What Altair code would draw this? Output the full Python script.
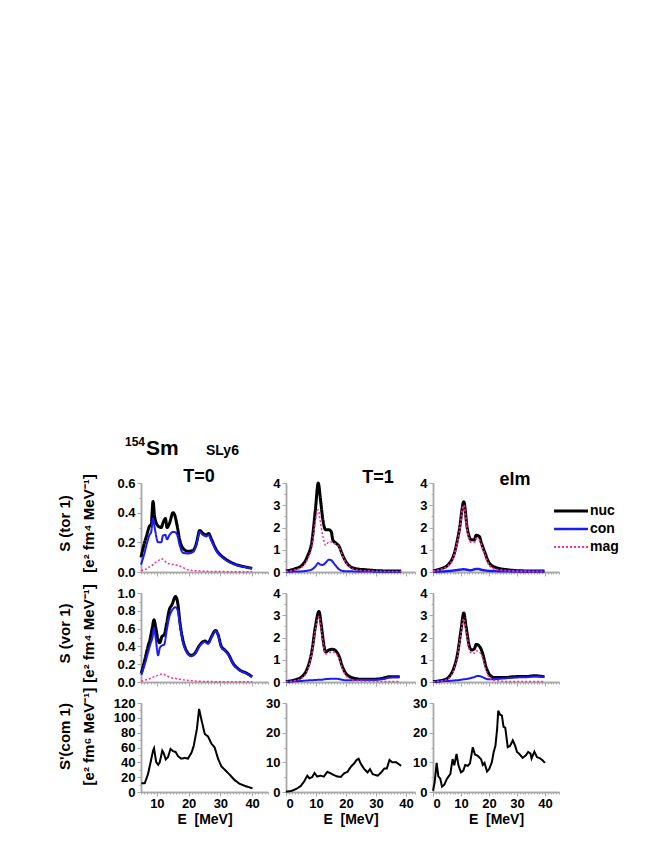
import altair as alt
import pandas as pd

FONT = "Liberation Sans"

# ---------------- data ----------------
# T=0, toroidal
E_T0_TOR = [5, 6, 6.7, 7.7, 8.2, 8.8, 9.3, 10.4, 11.4, 11.9, 12.7, 13.2, 14.0, 15.1, 15.6, 16.4, 17.2,
            18.2, 19.8, 21.4, 22.4, 23.5, 24.5, 25.6, 26.3, 27.2, 28.7, 30.8, 32.9, 35.0, 37.7, 40.0]
NUC_T0_TOR = [0.10, 0.19, 0.24, 0.31, 0.32, 0.475, 0.37, 0.31, 0.30, 0.33, 0.36, 0.30, 0.33, 0.40, 0.385, 0.31,
              0.216, 0.16, 0.14, 0.145, 0.19, 0.28, 0.26, 0.25, 0.26, 0.22, 0.15, 0.10, 0.07, 0.05, 0.035, 0.025]
CON_T0_TOR = [0.05, 0.12, 0.18, 0.25, 0.27, 0.36, 0.30, 0.20, 0.20, 0.245, 0.25, 0.22, 0.25, 0.27, 0.27, 0.25,
              0.18, 0.13, 0.125, 0.135, 0.18, 0.27, 0.25, 0.24, 0.25, 0.21, 0.145, 0.095, 0.066, 0.047, 0.033, 0.023]
MAG_T0_TOR = [0.01, 0.015, 0.02, 0.035, 0.04, 0.05, 0.06, 0.075, 0.09, 0.085, 0.07, 0.06, 0.055, 0.05, 0.05, 0.045,
              0.04, 0.03, 0.015, 0.01, 0.008, 0.006, 0.005, 0.005, 0.004, 0.004, 0.003, 0.003, 0.002, 0.002, 0.002, 0.002]

# T=1, toroidal
E_T1_TOR = [0, 3.1, 5.3, 7.1, 8.7, 9.8, 10.75, 11.5, 12.3, 13.2, 14.3, 15.1, 15.6, 16.6, 17.7, 18.6, 20.0,
            21.7, 23.3, 26.7, 32.3, 38.4]
NUC_T1_TOR = [0.05, 0.15, 0.3, 0.69, 1.44, 2.8, 4.0, 3.25, 2.34, 1.9, 1.9, 1.8, 1.44, 1.3, 1.15, 0.85, 0.46,
              0.22, 0.15, 0.1, 0.05, 0.04]
CON_T1_TOR = [0.01, 0.02, 0.03, 0.06, 0.12, 0.25, 0.4, 0.33, 0.32, 0.42, 0.55, 0.53, 0.45, 0.28, 0.12, 0.06, 0.03,
              0.03, 0.02, 0.02, 0.01, 0.01]
MAG_T1_TOR = [0.03, 0.1, 0.22, 0.55, 1.2, 2.3, 2.8, 2.2, 1.6, 1.2, 1.35, 1.35, 1.3, 1.25, 1.1, 0.8, 0.42,
              0.18, 0.1, 0.06, 0.03, 0.02]

# elm, toroidal
E_ELM_TOR = [0, 2.9, 5.2, 7.6, 9.4, 11.0, 12.2, 13.6, 14.8, 15.4, 16.5, 17.3, 18.6, 20.1, 22.5, 26.7, 32.6, 39.8]
NUC_ELM_TOR = [0.05, 0.15, 0.3, 0.84, 1.89, 3.16, 2.0, 1.45, 1.45, 1.65, 1.6, 1.3, 0.85, 0.4, 0.2, 0.1, 0.05, 0.04]
CON_ELM_TOR = [0.01, 0.02, 0.04, 0.07, 0.1, 0.12, 0.1, 0.08, 0.12, 0.14, 0.13, 0.1, 0.07, 0.05, 0.04, 0.03, 0.02, 0.02]
MAG_ELM_TOR = [0.03, 0.12, 0.25, 0.75, 1.75, 3.0, 1.85, 1.35, 1.35, 1.5, 1.45, 1.2, 0.75, 0.3, 0.12, 0.06, 0.03, 0.02]

# T=0, vortical
E_T0_VOR = [5.1, 6.2, 7.2, 7.9, 8.6, 9.1, 9.6, 10.4, 10.9, 11.6, 12.3, 13.1, 13.9, 14.7, 15.9, 16.6, 17.3,
            18.2, 19.2, 20.8, 21.9, 23.4, 25.1, 26.1, 27.2, 28.5, 29.3, 30.3, 31.4, 32.4, 34.0, 36.1, 38.2, 40.0]
NUC_T0_VOR = [0.10, 0.25, 0.40, 0.49, 0.62, 0.70, 0.62, 0.47, 0.44, 0.51, 0.53, 0.66, 0.81, 0.865, 0.96, 0.88, 0.66,
              0.47, 0.36, 0.30, 0.32, 0.41, 0.46, 0.44, 0.51, 0.58, 0.53, 0.40, 0.36, 0.32, 0.21, 0.135, 0.10, 0.06]
CON_T0_VOR = [0.08, 0.20, 0.33, 0.42, 0.50, 0.60, 0.50, 0.30, 0.38, 0.41, 0.42, 0.58, 0.73, 0.80, 0.84, 0.80, 0.63,
              0.45, 0.35, 0.29, 0.31, 0.40, 0.45, 0.43, 0.50, 0.57, 0.52, 0.39, 0.35, 0.31, 0.205, 0.13, 0.095, 0.058]
MAG_T0_VOR = [0.005, 0.02, 0.03, 0.04, 0.05, 0.06, 0.065, 0.075, 0.085, 0.09, 0.085, 0.07, 0.055, 0.045, 0.04, 0.035,
              0.03, 0.025, 0.02, 0.015, 0.01, 0.008, 0.006, 0.005, 0.005, 0.004, 0.004, 0.003, 0.003, 0.003, 0.002,
              0.002, 0.002, 0.002]

# T=1, vortical
E_T1_VOR = [0, 3.1, 5.3, 7.1, 8.7, 9.8, 11.0, 11.8, 12.7, 13.2, 14.3, 15.5, 16.6, 17.7, 18.8, 19.9, 22.2, 25.5,
            28.9, 32.3, 34.5, 37.9]
NUC_T1_VOR = [0.02, 0.1, 0.24, 0.61, 1.44, 2.5, 3.17, 2.5, 1.6, 1.35, 1.44, 1.47, 1.4, 1.15, 0.69, 0.4, 0.19, 0.12,
              0.12, 0.17, 0.24, 0.24]
CON_T1_VOR = [0.01, 0.03, 0.05, 0.07, 0.08, 0.09, 0.1, 0.1, 0.12, 0.13, 0.14, 0.15, 0.15, 0.13, 0.1, 0.08, 0.08, 0.1,
              0.1, 0.13, 0.2, 0.22]
MAG_T1_VOR = [0.01, 0.07, 0.18, 0.5, 1.3, 2.35, 2.95, 2.3, 1.45, 1.25, 1.33, 1.35, 1.3, 1.05, 0.6, 0.3, 0.08, 0.04,
              0.03, 0.02, 0.02, 0.02]

# elm, vortical
E_ELM_VOR = [0, 4.0, 5.8, 7.6, 8.8, 10.0, 11.0, 11.8, 13.0, 13.8, 14.8, 15.4, 16.5, 17.7, 18.9, 20.1, 21.9, 25.4,
             29.0, 33.8, 36.2, 39.8]
NUC_ELM_VOR = [0.02, 0.1, 0.24, 0.69, 1.29, 2.34, 3.1, 2.5, 1.6, 1.44, 1.5, 1.69, 1.62, 1.3, 0.7, 0.35, 0.2, 0.2,
               0.24, 0.25, 0.28, 0.24]
CON_ELM_VOR = [0.01, 0.04, 0.05, 0.07, 0.08, 0.1, 0.12, 0.13, 0.16, 0.19, 0.22, 0.26, 0.27, 0.22, 0.15, 0.12, 0.13,
               0.16, 0.2, 0.22, 0.25, 0.23]
MAG_ELM_VOR = [0.01, 0.07, 0.18, 0.6, 1.15, 2.2, 2.85, 2.3, 1.45, 1.3, 1.3, 1.4, 1.35, 1.1, 0.55, 0.2, 0.07, 0.03,
               0.02, 0.02, 0.02, 0.02]

# compressional (single curve per panel)
E_T0_COM = [5.1, 6.2, 7.2, 7.9, 8.8, 9.1, 9.8, 10.4, 10.9, 11.7, 12.1, 12.8, 13.5, 14.3, 15.1, 15.9, 16.7, 17.7,
            18.8, 19.8, 20.9, 21.6, 22.6, 23.3, 24.0, 25.1, 26.1, 27.2, 28.2, 29.3, 30.3, 31.4, 33.0, 34.5, 36.1,
            38.2, 40.1]
COM_T0 = [11.7, 12, 24, 37.7, 55.7, 59, 40, 36.7, 40, 55.7, 53, 44, 47, 58, 55, 54, 48, 45, 46, 45, 53, 62, 85,
          112, 98, 78, 75, 65, 60, 44.5, 34.6, 30, 23, 16, 11, 7.5, 5]

E_T1_COM = [0, 2.0, 3.7, 4.8, 5.9, 7.1, 7.8, 8.7, 9.5, 10.4, 11.5, 12.6, 13.8, 14.9, 16.0, 17.1, 18.3, 19.4, 20.5,
            21.6, 22.7, 23.5, 24.2, 25.0, 26.1, 27.2, 28.0, 28.9, 30.6, 31.7, 32.8, 33.6, 34.5, 35.4, 36.8, 38.4]
COM_T1 = [0.1, 0.4, 1.2, 1.9, 3.3, 5.5, 4.6, 5, 6.4, 5.2, 5.5, 5.2, 6.8, 6.3, 5.7, 5.2, 5.1, 6.3, 6.8, 8.5, 9.6,
          10.8, 11.2, 9.4, 7.7, 6.6, 7.7, 6, 5.5, 6.6, 7.9, 7.9, 10.8, 10, 10, 8.8]

E_ELM_COM = [0, 0.6, 1.3, 1.9, 2.6, 3.2, 4.0, 5.0, 6.2, 7.0, 7.6, 8.4, 9.1, 10.0, 10.8, 11.5, 12.4, 13.2, 14.2,
             15.0, 16.0, 17.2, 17.8, 18.4, 19.3, 20.1, 21.0, 21.7, 22.3, 22.9, 23.3, 24.0, 24.6, 25.2, 25.8, 26.7,
             27.5, 28.5, 29.3, 30.0, 30.8, 32.0, 33.2, 34.0, 34.8, 35.2, 36.2, 37.1, 38.3, 39.1, 40.0]
COM_ELM = [0.4, 3.3, 9.8, 5.3, 4.5, 1.8, 2.4, 4.5, 6.1, 11.1, 9, 12.8, 9, 6.6, 7.2, 9.1, 8.8, 9.6, 15.1, 12.6,
           12.2, 11, 9.1, 9.8, 6.9, 7.8, 10, 13.6, 15.6, 21.2, 27.4, 26, 25.8, 22, 21.7, 15.1, 15.5, 17.4, 15.7,
           13.5, 12.9, 11.5, 12.4, 13.5, 13, 11.3, 13.6, 11.8, 11.3, 10.7, 9.8]

SERIES = ["nuc", "con", "mag"]
COLORS = ["#000000", "#1a1aff", "#ff2b9c"]
WIDTHS = [3.0, 2.0, 1.5]
DASHES = [[1, 0], [1, 0], [2, 2]]

YT_TOR = ["S (tor 1)", "[e² fm⁴ MeV⁻¹]"]
YT_VOR = ["S (vor 1)", "[e² fm⁴ MeV⁻¹]"]
YT_COM = ["S'(com 1)", "[e² fm⁶ MeV⁻¹]"]
XTITLE = "E\u00a0\u00a0[MeV]"

# ---------------- styling ----------------
PANEL_H = 89
AX = dict(labelFont=FONT, labelFontSize=13, labelFontWeight="bold", labelColor="black",
          titleFont=FONT, titleFontWeight="bold", titleColor="black",
          domainColor="#a8a8a8", tickColor="#a8a8a8", domainWidth=1.5, tickWidth=1, grid=False)

LEG = alt.Legend(title=None, orient="none", legendX=423, legendY=21,
                 symbolType="M-5,0H5", symbolSize=46, labelFont=FONT, labelFontSize=14,
                 labelFontWeight="bold", labelColor="black", labelOffset=12, rowPadding=4)


def ticks(a, b, step):
    n = int(round((b - a) / step))
    return [round(a + i * step, 6) for i in range(n + 1)]


def text_layer(label, x, y, size, align="center"):
    return alt.Chart(pd.DataFrame({"t": [label]})).mark_text(
        font=FONT, fontSize=size, fontWeight="bold", align=align, baseline="alphabetic", color="black"
    ).encode(x=alt.value(x), y=alt.value(y), text="t:N")


def panel(E, curves, xdom, xmajor, ydom, ystep, yfmt, width, ytitle=None, ytitle_y=40,
          bottom=False, legend=False, extra=None):
    data = {"E": E}
    data.update(curves)
    df = pd.DataFrame(data).melt("E", var_name="s", value_name="v")
    xs = alt.Scale(domain=xdom, nice=False, zero=False)
    ys = alt.Scale(domain=ydom, nice=False, zero=False)
    base = alt.Chart(df)
    ghost = base.mark_line(opacity=0).encode(
        x=alt.X("E:Q", scale=xs, axis=alt.Axis(values=ticks(xdom[0], xdom[1], 1), labels=False, tickSize=2,
                                               title=None, orient="bottom", **AX)),
        y=alt.Y("v:Q", scale=ys, axis=alt.Axis(values=ticks(ydom[0], ydom[1], ystep / 2), labels=False,
                                               tickSize=2, title=None, orient="left", **AX)),
        detail="s:N")
    layers = [ghost]
    first = True
    for name, col, w, d in zip(SERIES, COLORS, WIDTHS, DASHES):
        if name not in curves:
            continue
        if first:
            xargs = dict(values=xmajor, labels=bottom, tickSize=4, orient="bottom", titleFontSize=14,
                         labelPadding=1, titlePadding=2, **AX)
            xargs.update(title=XTITLE if bottom else None)
            yargs = dict(values=ticks(ydom[0], ydom[1], ystep), format=yfmt, tickSize=4, orient="left",
                         labelPadding=2, **AX)
            if ytitle:
                yargs.update(title=ytitle, titleFontSize=15, titleLineHeight=24, titleAngle=270,
                             titleX=-69, titleY=ytitle_y, titleAlign="center", titleBaseline="bottom")
            else:
                yargs.update(title=None)
            xenc = alt.X("E:Q", scale=xs, axis=alt.Axis(**xargs))
            yenc = alt.Y("v:Q", scale=ys, axis=alt.Axis(**yargs))
        else:
            xenc = alt.X("E:Q", scale=xs, axis=None)
            yenc = alt.Y("v:Q", scale=ys, axis=None)
        if legend:
            mark = base.mark_line(interpolate="monotone").encode(
                x=xenc, y=yenc,
                color=alt.Color("s:N", scale=alt.Scale(domain=SERIES, range=COLORS), legend=LEG),
                strokeDash=alt.StrokeDash("s:N", scale=alt.Scale(domain=SERIES, range=DASHES), legend=LEG),
                strokeWidth=alt.StrokeWidth("s:N", scale=alt.Scale(domain=SERIES, range=WIDTHS), legend=LEG),
            )
        else:
            single = "con" not in curves
            cw = 2.0 if single else w
            mark = base.mark_line(color=col, strokeWidth=cw, strokeDash=d,
                                  interpolate="linear" if single else "monotone").encode(x=xenc, y=yenc)
        layers.append(mark.transform_filter(alt.datum.s == name))
        first = False
    if extra:
        layers.extend(extra)
    return alt.layer(*layers).resolve_axis(x="independent", y="independent").properties(
        width=width, height=PANEL_H)


W1, W2, W3 = 127, 129, 126
X1, X2, X3 = [5, 45], [0, 43], [0, 45]
M1, M23 = [10, 20, 30, 40], [0, 10, 20, 30, 40]

hdr1 = [text_layer("154", 4, -37, 12, "right"), text_layer("Sm", 5, -28, 21, "left"),
        text_layer("SLy6", 65, -28, 14, "left"), text_layer("T=0", 58, -1, 18)]

p1 = panel(E_T0_TOR, {"nuc": NUC_T0_TOR, "con": CON_T0_TOR, "mag": MAG_T0_TOR}, X1, M1, [0, 0.6], 0.2, ".1f",
           W1, ytitle=YT_TOR, extra=hdr1)
p2 = panel(E_T1_TOR, {"nuc": NUC_T1_TOR, "con": CON_T1_TOR, "mag": MAG_T1_TOR}, X2, M23, [0, 4], 1, "d",
           W2, extra=[text_layer("T=1", 92, 0, 18)])
p3 = panel(E_ELM_TOR, {"nuc": NUC_ELM_TOR, "con": CON_ELM_TOR, "mag": MAG_ELM_TOR}, X3, M23, [0, 4], 1, "d",
           W3, legend=True, extra=[text_layer("elm", 82, 2, 18)])
p4 = panel(E_T0_VOR, {"nuc": NUC_T0_VOR, "con": CON_T0_VOR, "mag": MAG_T0_VOR}, X1, M1, [0, 1.0], 0.2, ".1f",
           W1, ytitle=YT_VOR)
p5 = panel(E_T1_VOR, {"nuc": NUC_T1_VOR, "con": CON_T1_VOR, "mag": MAG_T1_VOR}, X2, M23, [0, 4], 1, "d", W2)
p6 = panel(E_ELM_VOR, {"nuc": NUC_ELM_VOR, "con": CON_ELM_VOR, "mag": MAG_ELM_VOR}, X3, M23, [0, 4], 1, "d", W3)
p7 = panel(E_T0_COM, {"nuc": COM_T0}, X1, M1, [0, 120], 20, "d", W1, ytitle=YT_COM, ytitle_y=33, bottom=True)
p8 = panel(E_T1_COM, {"nuc": COM_T1}, X2, M23, [0, 30], 10, "d", W2, bottom=True)
p9 = panel(E_ELM_COM, {"nuc": COM_ELM}, X3, M23, [0, 30], 10, "d", W3, bottom=True)

chart = alt.concat(p1, p2, p3, p4, p5, p6, p7, p8, p9, columns=3,
                   spacing=alt.RowColnumber(row=21, column=18), bounds="flush").properties(
    padding={"left": 48, "top": 428, "right": 5, "bottom": 5},
    background="white",
).configure_view(stroke=None)

chart.save("out.html", embed_options={"renderer": "svg", "actions": False})
